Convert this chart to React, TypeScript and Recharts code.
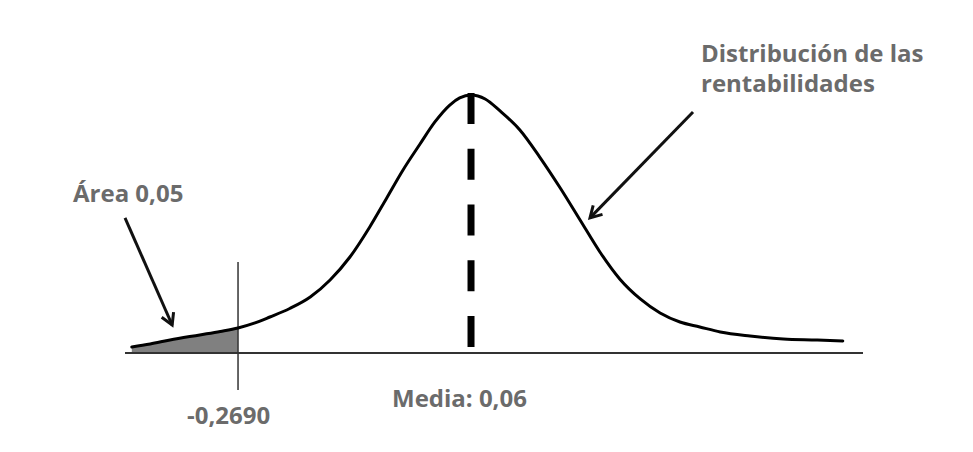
import React from "react";
import {
  ComposedChart,
  Line,
  Area,
  XAxis,
  YAxis,
  ReferenceLine,
  Customized,
} from "recharts";

// Returns (x) and density (y)
const returns = [
  -0.419, -0.393, -0.365, -0.323, -0.294, -0.269, -0.245, -0.224, -0.196, -0.167,
  -0.139, -0.111, -0.083, -0.059, -0.036, -0.012, 0.009, 0.03, 0.044, 0.06,
  0.08, 0.101, 0.129, 0.157, 0.186, 0.214, 0.242, 0.27, 0.299, 0.327, 0.355,
  0.383, 0.412, 0.454, 0.501, 0.549, 0.585,
];
const density = [
  0.047, 0.07, 0.101, 0.14, 0.167, 0.194, 0.233, 0.279, 0.345, 0.434, 0.566,
  0.744, 0.977, 1.202, 1.419, 1.62, 1.791, 1.922, 1.977, 2.0, 1.969, 1.876,
  1.729, 1.519, 1.279, 1.031, 0.783, 0.574, 0.419, 0.31, 0.24, 0.202, 0.163,
  0.132, 0.109, 0.101, 0.093,
];

const meanValue = 0.06;
const var5 = -0.269;
const xDomain: [number, number] = [-0.4286, 0.6135];
const yDomain: [number, number] = [0, 2.581];

const labelDist = ["Distribución de las", "rentabilidades"];
const labelArea = "Área 0,05";
const labelMean = "Media: 0,06";
const labelVar = "-0,2690";

// annotation anchors (data coordinates)
const arrowLeft = [
  { x: -0.4286, y: 1.047 },
  { x: -0.362, y: 0.217 },
];
const arrowRight = [
  { x: 0.3735, y: 1.868 },
  { x: 0.228, y: 1.047 },
];
const varLine = [
  { x: var5, y: 0.705 },
  { x: var5, y: -0.287 },
];
const meanLine = [
  { x: meanValue, y: 2.016 },
  { x: meanValue, y: 0.0465 },
];

const data = returns.map((x, i) => ({
  x,
  curve: density[i],
  tail: x <= var5 + 1e-9 ? density[i] : undefined,
}));

const TEXT_COLOR = "#6b6b6b";
const FONT = "'Open Sans', 'Noto Sans', sans-serif";

function ArrowShape(props: any) {
  const { x1, y1, x2, y2 } = props;
  const a = Math.atan2(y2 - y1, x2 - x1);
  const L = 13;
  const w = Math.PI / 6;
  const p1x = x2 - L * Math.cos(a - w);
  const p1y = y2 - L * Math.sin(a - w);
  const p2x = x2 - L * Math.cos(a + w);
  const p2y = y2 - L * Math.sin(a + w);
  return (
    <g>
      <line x1={x1} y1={y1} x2={x2} y2={y2} stroke="#111" strokeWidth={3} />
      <path
        d={`M${p1x},${p1y} L${x2},${y2} L${p2x},${p2y}`}
        fill="none"
        stroke="#111"
        strokeWidth={3}
      />
    </g>
  );
}

function Texts() {
  const common = {
    fontFamily: FONT,
    fontWeight: 700,
    fontSize: 24,
    fill: TEXT_COLOR,
  };
  return (
    <g>
      <text x={701} y={62} {...common}>
        {labelDist[0]}
      </text>
      <text x={701} y={92} {...common}>
        {labelDist[1]}
      </text>
      <text x={73} y={202} {...common}>
        {labelArea}
      </text>
      <text x={392} y={407} {...common}>
        {labelMean}
      </text>
      <text x={187} y={424} {...common}>
        {labelVar}
      </text>
    </g>
  );
}

export default function App() {
  return (
    <div
      style={{
        position: "absolute",
        left: 0,
        top: 0,
        width: 973,
        height: 452,
        background: "#fff",
      }}
    >
      <ComposedChart
        width={973}
        height={452}
        data={data}
        margin={{ top: 20, right: 110, bottom: 99, left: 125 }}
      >
        <XAxis type="number" dataKey="x" domain={xDomain} hide allowDataOverflow />
        <YAxis type="number" domain={yDomain} hide allowDataOverflow />
        <Area
          type="monotone"
          dataKey="tail"
          stroke="none"
          fill="#808080"
          fillOpacity={1}
          isAnimationActive={false}
          dot={false}
          activeDot={false}
        />
        <ReferenceLine y={0} stroke="#333" strokeWidth={2} ifOverflow="visible" />
        <ReferenceLine
          segment={varLine}
          stroke="#333"
          strokeWidth={1.5}
          ifOverflow="visible"
        />
        <Line
          type="monotone"
          dataKey="curve"
          stroke="#000"
          strokeWidth={3}
          dot={false}
          activeDot={false}
          strokeLinecap="round"
          isAnimationActive={false}
        />
        <ReferenceLine
          segment={meanLine}
          stroke="#000"
          strokeWidth={7}
          strokeDasharray="31 24.75"
          ifOverflow="visible"
        />
        <ReferenceLine segment={arrowLeft} ifOverflow="visible" shape={ArrowShape} />
        <ReferenceLine segment={arrowRight} ifOverflow="visible" shape={ArrowShape} />
        <Customized component={<Texts />} />
      </ComposedChart>
    </div>
  );
}
